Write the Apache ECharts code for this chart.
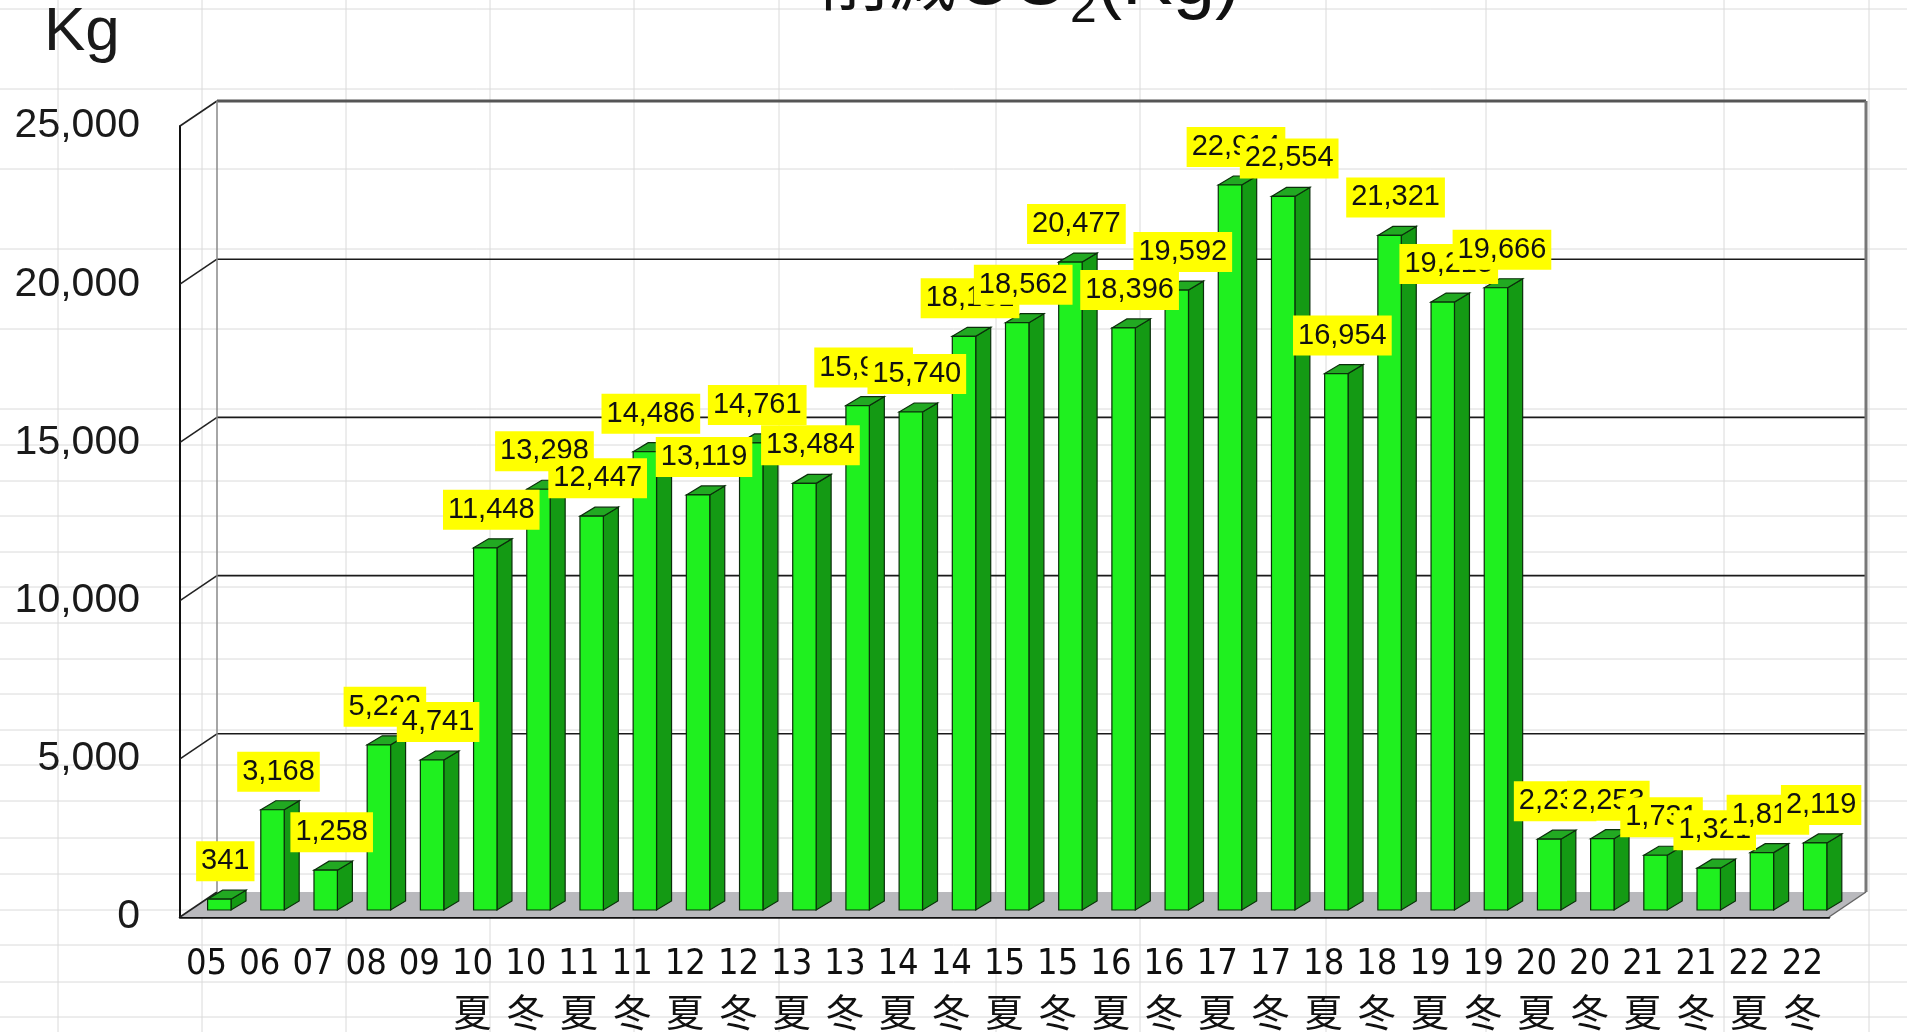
<!DOCTYPE html>
<html>
<head>
<meta charset="utf-8">
<script src="https://cdn.jsdelivr.net/npm/echarts@6/dist/echarts.min.js"></script>
<style>
  html, body { margin: 0; padding: 0; background: #fff; }
  #chart { width: 1907px; height: 1032px; }
</style>
</head>
<body>
<div id="chart"></div>
<script>
// 期間 (年 + 夏/冬)
const categories = [
  '05', '06', '07', '08', '09',
  '10\n夏', '10\n冬', '11\n夏', '11\n冬', '12\n夏', '12\n冬', '13\n夏', '13\n冬',
  '14\n夏', '14\n冬', '15\n夏', '15\n冬', '16\n夏', '16\n冬', '17\n夏', '17\n冬',
  '18\n夏', '18\n冬', '19\n夏', '19\n冬', '20\n夏', '20\n冬', '21\n夏', '21\n冬',
  '22\n夏', '22\n冬'
];
// 削減CO2 (Kg)
const co2Values = [
  341, 3168, 1258, 5222, 4741,
  11448, 13298, 12447, 14486, 13119, 14761, 13484, 15943,
  15740, 18131, 18562, 20477, 18396, 19592, 22914, 22554,
  16954, 21321, 19215, 19666, 2237, 2253, 1731, 1321,
  1813, 2119
];
const yTicks = [0, 5000, 10000, 15000, 20000, 25000];

// 背景のシート罫線
const sheetCols = [58, 202, 346, 490, 634, 779, 996, 1140, 1326, 1486, 1724, 1869];
const sheetRows = [9, 89, 169, 249, 329, 409, 445, 481, 516, 552, 587, 623, 659, 694, 730,
  765, 801, 838, 874, 910, 945, 982, 1017];

const DX = 37, DY = -25;          // 奥行き (壁・床)
const BAR_DX = 15, BAR_DY = -9;   // 棒の奥行き
const fmt = v => v.toLocaleString('en-US');

const myChart = echarts.init(document.getElementById('chart'));

const sheetLines = [];
sheetCols.forEach(x => sheetLines.push({
  type: 'line', silent: true, z: -100,
  shape: { x1: x, y1: 0, x2: x, y2: 1032 },
  style: { stroke: '#dadada', lineWidth: 1 }
}));
sheetRows.forEach(y => sheetLines.push({
  type: 'line', silent: true, z: -100,
  shape: { x1: 0, y1: y, x2: 1907, y2: y },
  style: { stroke: '#dadada', lineWidth: 1 }
}));

// 3D風の枠 (床・奥の壁・目盛線)
function renderFrame(params, api) {
  const cs = params.coordSys;
  const x = cs.x, w = cs.width;
  const yb = api.coord([0, 0])[1];
  const yt = api.coord([0, 25000])[1];
  const children = [];
  children.push({
    type: 'polygon',
    shape: { points: [[x, yb], [x + w, yb], [x + w + DX, yb + DY], [x + DX, yb + DY]] },
    style: { fill: '#b9b9bd' }
  });
  yTicks.forEach(t => {
    const y = api.coord([0, t])[1];
    if (t > 0) {
      children.push({
        type: 'line',
        shape: { x1: x + DX, y1: y + DY, x2: x + w + DX, y2: y + DY },
        style: { stroke: t === 25000 ? '#555' : '#1a1a1a', lineWidth: t === 25000 ? 3 : 1.6 }
      });
    }
    children.push({
      type: 'line',
      shape: { x1: x, y1: y, x2: x + DX, y2: y + DY },
      style: { stroke: '#222', lineWidth: 1.6 }
    });
  });
  children.push({
    type: 'line',
    shape: { x1: x + DX, y1: yt + DY, x2: x + DX, y2: yb + DY },
    style: { stroke: '#888', lineWidth: 1.5 }
  });
  children.push({
    type: 'line',
    shape: { x1: x + w + DX, y1: yt + DY, x2: x + w + DX, y2: yb + DY },
    style: { stroke: '#777', lineWidth: 3 }
  });
  children.push({
    type: 'line',
    shape: { x1: x + w, y1: yb, x2: x + w + DX, y2: yb + DY },
    style: { stroke: '#666', lineWidth: 1.5 }
  });
  return { type: 'group', children: children };
}

// 3D風の棒 + 黄色ラベル
function renderBar(params, api) {
  const i = api.value(0), v = api.value(1);
  const top = api.coord([i, v]);
  const base = api.coord([i, 0]);
  const bw = api.size([1, 0])[0];
  const fw = bw * 0.44;
  const x0 = top[0] + 1, x1 = x0 + fw;
  const yT = top[1] - 7, yB = base[1] - 7;
  const stroke = '#0b2e0b';
  return {
    type: 'group',
    children: [
      {
        type: 'polygon',
        shape: { points: [[x1, yT], [x1 + BAR_DX, yT + BAR_DY], [x1 + BAR_DX, yB + BAR_DY], [x1, yB]] },
        style: { fill: '#149a14', stroke: stroke, lineWidth: 1.2 }
      },
      {
        type: 'polygon',
        shape: { points: [[x0, yT], [x0 + BAR_DX, yT + BAR_DY], [x1 + BAR_DX, yT + BAR_DY], [x1, yT]] },
        style: { fill: '#22a922', stroke: stroke, lineWidth: 1.2 }
      },
      {
        type: 'rect',
        shape: { x: x0, y: yT, width: fw, height: yB - yT },
        style: { fill: '#1ff01f', stroke: stroke, lineWidth: 1.2 }
      },
      {
        type: 'text',
        z2: 100,
        x: x0 + fw / 2 + 6,
        y: yT - 38,
        style: {
          text: fmt(v),
          fill: '#111',
          fontSize: 29,
          fontFamily: '"Liberation Sans", Arial, sans-serif',
          align: 'center',
          verticalAlign: 'middle',
          backgroundColor: '#ffff00',
          padding: [6, 5, 5, 5]
        }
      }
    ]
  };
}

const option = {
  backgroundColor: '#fff',
  animation: false,
  title: {
    text: '{k|削減}{a|CO}{s|2}{a|(Kg)}',
    left: 815,
    top: -60,
    textStyle: {
      fontWeight: 'normal',
      rich: {
        k: { fontSize: 68, lineHeight: 80, verticalAlign: 'top', fontWeight: 'normal', fontFamily: '"Noto Sans CJK JP"', color: '#111' },
        a: { fontSize: 76, lineHeight: 80, verticalAlign: 'top', fontWeight: 'normal', fontFamily: '"Liberation Sans", Arial', color: '#111' },
        s: { fontSize: 48, lineHeight: 48, verticalAlign: 'top', padding: [40, 0, 0, 0], fontWeight: 'normal', fontFamily: '"Liberation Sans", Arial', color: '#111' }
      }
    }
  },
  graphic: sheetLines.concat([{
    type: 'text', left: 44, top: 2, z: 10,
    style: { text: 'Kg', fill: '#1a1a1a', fontSize: 62, fontFamily: '"Liberation Sans", Arial, sans-serif' }
  }]),
  grid: { left: 180, right: 78, top: 126, bottom: 115 },
  xAxis: {
    type: 'category',
    data: categories,
    boundaryGap: true,
    axisLine: { show: true, lineStyle: { color: '#111', width: 2.5 } },
    axisTick: { show: true, inside: true, length: 10, interval: 0, lineStyle: { color: '#111', width: 1.5 } },
    axisLabel: {
      interval: 0,
      margin: 24,
      formatter: v => {
        const p = v.split('\n');
        return p.length > 1 ? '{n|' + p[0] + '}\n{k|' + p[1] + '}' : '{n|' + p[0] + '}';
      },
      rich: {
        n: { fontSize: 36, fontFamily: '"Liberation Sans Narrow", "DejaVu Sans Condensed", sans-serif', color: '#111', lineHeight: 48 },
        k: { fontSize: 38, fontFamily: '"Noto Sans CJK JP"', color: '#111', lineHeight: 46 }
      }
    },
    splitLine: { show: false }
  },
  yAxis: {
    type: 'value',
    min: 0,
    max: 25000,
    interval: 5000,
    axisLine: { show: true, lineStyle: { color: '#111', width: 2 } },
    axisTick: { show: false },
    splitLine: { show: false },
    axisLabel: {
      margin: 40,
      fontSize: 41,
      fontFamily: '"Liberation Sans", Arial, sans-serif',
      color: '#1a1a1a',
      formatter: v => fmt(v)
    }
  },
  series: [
    {
      type: 'custom',
      name: 'frame',
      z: 1,
      silent: true,
      renderItem: renderFrame,
      data: [[0, 0]]
    },
    {
      type: 'custom',
      name: '削減CO2',
      z: 3,
      renderItem: renderBar,
      encode: { x: 0, y: 1 },
      data: co2Values.map((v, i) => [i, v])
    }
  ]
};

myChart.setOption(option);
</script>
</body>
</html>
